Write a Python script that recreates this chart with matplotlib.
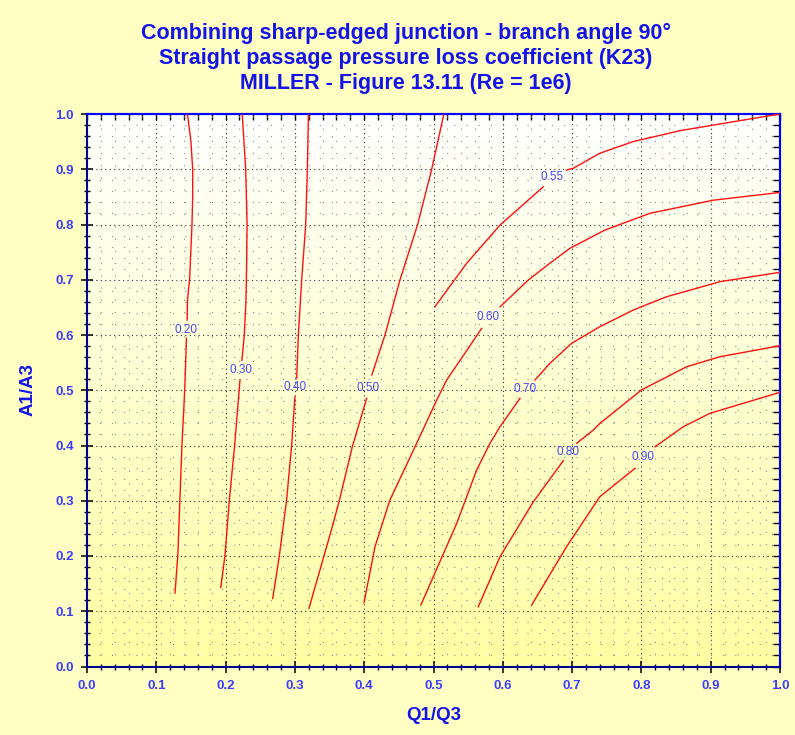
import numpy as np
import matplotlib
matplotlib.use("Agg")
import matplotlib.pyplot as plt
from matplotlib.ticker import MultipleLocator

plt.rcParams['font.family'] = ['Liberation Sans', 'DejaVu Sans']

TITLE = ["Combining sharp-edged junction - branch angle 90°",
         "Straight passage pressure loss coefficient (K23)",
         "MILLER - Figure 13.11 (Re = 1e6)"]

# contour lines (Q1/Q3, A1/A3); nan = gap for the label
k020_q = [0.145, 0.150, 0.1525, 0.1525, 0.1515, 0.148, 0.145, 0.1445, np.nan, 0.1435, 0.141, 0.137, 0.134, 0.131, 0.127]
k020_a = [1.0, 0.95, 0.9, 0.85, 0.8, 0.7, 0.663, 0.627, np.nan, 0.594, 0.5, 0.4, 0.3, 0.2, 0.133]

k030_q = [0.224, 0.229, 0.231, 0.230, 0.2294, 0.227, 0.2235, np.nan, 0.2208, 0.213, 0.2054, 0.199, 0.193]
k030_a = [1.0, 0.9, 0.8, 0.7, 0.663, 0.6, 0.554, np.nan, 0.519, 0.4, 0.301, 0.2, 0.143]

k040_q = [0.3195, 0.318, 0.3156, 0.3098, 0.305, 0.3026, np.nan, 0.300, 0.2953, 0.288, 0.2775, 0.268]
k040_a = [1.0, 0.9, 0.8, 0.7, 0.6, 0.522, np.nan, 0.488, 0.4, 0.301, 0.2, 0.123]

k050_q = [0.515, 0.4974, 0.4771, 0.4517, 0.430, 0.411, np.nan, 0.4036, 0.3829, 0.364, 0.354, 0.3203]
k050_a = [1.0, 0.9, 0.8, 0.7, 0.6, 0.5276, np.nan, 0.4854, 0.398, 0.3, 0.253, 0.1053]

k055_q = [1.0, 0.9326, 0.8557, 0.788, 0.740, 0.7017, 0.692, np.nan, 0.6585, 0.596, 0.548, 0.502]
k055_a = [1.0, 0.986, 0.9698, 0.950, 0.929, 0.9017, 0.8986, np.nan, 0.8684, 0.799, 0.730, 0.651]

k060_q = [1.0, 0.904, 0.8124, 0.7475, 0.697, 0.668, 0.6368, 0.596, np.nan, 0.5696, 0.519, 0.5046, 0.4757, 0.437, 0.4156, 0.3997]
k060_a = [0.858, 0.844, 0.8203, 0.790, 0.757, 0.730, 0.6995, 0.651, np.nan, 0.612, 0.5185, 0.482, 0.404, 0.301, 0.217, 0.1155]

k070_q = [1.0, 0.9134, 0.8365, 0.7883, 0.740, 0.6994, 0.668, 0.6465, np.nan, 0.6248, 0.596, 0.5815, 0.5623, 0.5335, 0.4997, 0.482]
k070_a = [0.7135, 0.6965, 0.6693, 0.6452, 0.615, 0.585, 0.5488, 0.5186, np.nan, 0.4854, 0.434, 0.404, 0.3557, 0.259, 0.1625, 0.112]

k080_q = [1.0, 0.9134, 0.8654, 0.800, 0.7643, 0.740, 0.7306, 0.7066, np.nan, 0.6873, 0.644, 0.596, 0.5646]
k080_a = [0.5806, 0.5607, 0.5426, 0.5005, 0.4643, 0.440, 0.428, 0.404, np.nan, 0.3725, 0.298, 0.1988, 0.108]

k090_q = [1.0, 0.899, 0.8605, 0.8268, 0.8196, np.nan, 0.7908, 0.740, 0.692, 0.6417]
k090_a = [0.4963, 0.4583, 0.434, 0.404, 0.398, np.nan, 0.3587, 0.3073, 0.2168, 0.1113]

levels = ["0.20", "0.30", "0.40", "0.50", "0.55", "0.60", "0.70", "0.80", "0.90"]
label_q = [0.143, 0.2218, 0.3006, 0.406, 0.6705, 0.579, 0.632, 0.6946, 0.8018]
label_a = [0.609, 0.537, 0.505, 0.5035, 0.8854, 0.632, 0.5017, 0.3888, 0.3786]

curves = [(k020_q, k020_a), (k030_q, k030_a), (k040_q, k040_a), (k050_q, k050_a),
          (k055_q, k055_a), (k060_q, k060_a), (k070_q, k070_a), (k080_q, k080_a),
          (k090_q, k090_a)]

BG = '#ffffc4'
BLUE = '#1414e6'
TICKBLUE = '#3c3cff'

fig = plt.figure(figsize=(7.95, 7.35), dpi=100, facecolor=BG)
ax = fig.add_axes([87/795, 1-666.5/735, 693/795, 552.5/735])

# white -> yellow vertical gradient
grad = np.linspace(0, 1, 256).reshape(-1, 1)
cols = np.ones((256, 1, 3))
cols[:, 0, 2] = 1.0 - 0.36*grad[:, 0]
ax.imshow(cols, extent=[0, 1, 0, 1], origin='upper', aspect='auto', zorder=0)

for (q, a) in curves:
  ax.plot(q, a, color='#ff1010', lw=1.0, zorder=3, solid_joinstyle='round')
for lev, q, a in zip(levels, label_q, label_a):
  ax.text(q, a, lev, color='#4646ff', fontsize=8.5, ha='center', va='center', zorder=4)

ax.set_xlim(0, 1)
ax.set_ylim(0, 1)
ax.xaxis.set_major_locator(MultipleLocator(0.1))
ax.yaxis.set_major_locator(MultipleLocator(0.1))
ax.xaxis.set_minor_locator(MultipleLocator(0.02))
ax.yaxis.set_minor_locator(MultipleLocator(0.02))
ax.xaxis.set_major_formatter(lambda v, p: "%.1f" % v)
ax.yaxis.set_major_formatter(lambda v, p: "%.1f" % v)

ax.grid(which='major', color='#303030', lw=0.8, linestyle=(0, (1, 3)))
ax.grid(which='minor', color='#8a8a8a', lw=0.8, linestyle=(0, (1, 10)))

ax.tick_params(which='major', direction='inout', length=9, width=1.1, color='black',
               labelcolor=TICKBLUE, labelsize=9.5, pad=5)
ax.tick_params(which='minor', direction='inout', length=5, width=1.0, color='black')
for lab in ax.get_xticklabels() + ax.get_yticklabels():
  lab.set_fontweight('bold')

for s in ['left', 'bottom']:
  ax.spines[s].set_color('#000090')
  ax.spines[s].set_linewidth(1.5)
for s in ['top', 'right']:
  ax.spines[s].set_color('#0000ff')
  ax.spines[s].set_linewidth(1.5)

# inward ticks on top and right
sx = ax.secondary_xaxis('top')
sx.xaxis.set_major_locator(MultipleLocator(0.1))
sx.xaxis.set_minor_locator(MultipleLocator(0.02))
sx.tick_params(which='both', direction='in', length=4, width=1.0, color='black', labeltop=False)
sx.spines['top'].set_color('#0000ff')
sx.spines['top'].set_linewidth(1.5)
sy = ax.secondary_yaxis('right')
sy.yaxis.set_major_locator(MultipleLocator(0.1))
sy.yaxis.set_minor_locator(MultipleLocator(0.02))
sy.tick_params(which='both', direction='in', length=5, width=1.0, color='black', labelright=False)
sy.spines['right'].set_color('#0000ff')
sy.spines['right'].set_linewidth(1.5)

fig.text(433.5/795, 1-715/735, "Q1/Q3", color=BLUE, fontsize=13.5, fontweight='bold',
         ha='center', va='center')
fig.text(28/795, 1-390/735, "A1/A3", color=BLUE, fontsize=13.5, fontweight='bold',
         ha='center', va='center', rotation=90)

for i, line in enumerate(TITLE):
  fig.text(406/795, 1-(33+25.5*i)/735, line, color=BLUE, fontsize=15.5,
           fontweight='bold', ha='center', va='center')

fig.savefig('out.png', dpi=100, facecolor=BG)
